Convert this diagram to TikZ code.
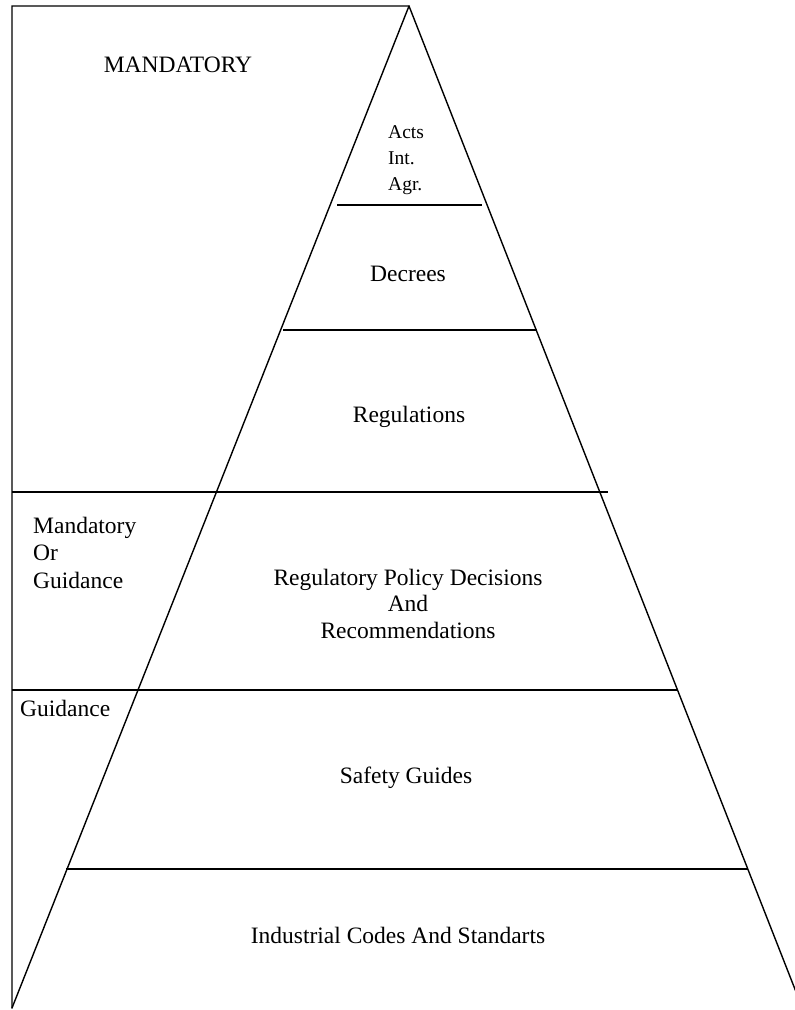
\documentclass[tikz,border=0pt]{standalone}
\usepackage{fontspec}
\setmainfont{Liberation Serif}
\begin{document}
\begin{tikzpicture}[x=1pt,y=-1pt,
  edge/.style={line width=1.4pt, line cap=round, line join=miter},
  tierline/.style={line width=1.3pt},
  lbl/.style={inner sep=0pt, anchor=base, font=\fontsize{23.5}{26.5}\selectfont},
  lbll/.style={inner sep=0pt, anchor=base west, font=\fontsize{23.5}{27.5}\selectfont},
  small/.style={inner sep=0pt, anchor=base west, font=\fontsize{19.5}{26.5}\selectfont}]
\useasboundingbox (0,0) rectangle (795,1010);
\clip (0,0) rectangle (795,1010);
% frame and pyramid
\coordinate (tl) at (12,6);
\coordinate (bl) at (12,1008);
\coordinate (apex) at (409,6);
\coordinate (br) at (800,1002);
\draw[edge] (bl) -- (tl) -- (apex) -- (br);
\draw[edge] (apex) -- (bl);
% tier lines
\coordinate (a1) at (337,205); \coordinate (a2) at (482,205);
\coordinate (b1) at (283,330); \coordinate (b2) at (537,330);
\coordinate (c1) at (12,492);  \coordinate (c2) at (608,492);
\coordinate (d1) at (12,690);  \coordinate (d2) at (678,690);
\coordinate (e1) at (66,869);  \coordinate (e2) at (748,869);
\draw[tierline] (a1) -- (a2);
\draw[tierline] (b1) -- (b2);
\draw[tierline] (c1) -- (c2);
\draw[tierline] (d1) -- (d2);
\draw[tierline] (e1) -- (e2);
% labels
\node[lbl] (mand) at (178,72) {MANDATORY};
\node[small] (acts1) at (388,138) {Acts};
\node[small] (acts2) at (388,164) {Int.};
\node[small] (acts3) at (388,190) {Agr.};
\node[lbl] (decr) at (408,281) {Decrees};
\node[lbl] (regs) at (409,422) {Regulations};
\node[lbll] (mog1) at (33,533) {Mandatory};
\node[lbll] (mog2) at (33,560.5) {Or};
\node[lbll] (mog3) at (33,588) {Guidance};
\node[lbl] (rpd1) at (408,585) {Regulatory Policy Decisions};
\node[lbl] (rpd2) at (408,611.5) {And};
\node[lbl] (rpd3) at (408,638) {Recommendations};
\node[lbll] (guid) at (20,716) {Guidance};
\node[lbl] (safe) at (406,783) {Safety Guides};
\node[lbl] (ind) at (398,943) {Industrial Codes And Standarts};
\end{tikzpicture}
\end{document}
